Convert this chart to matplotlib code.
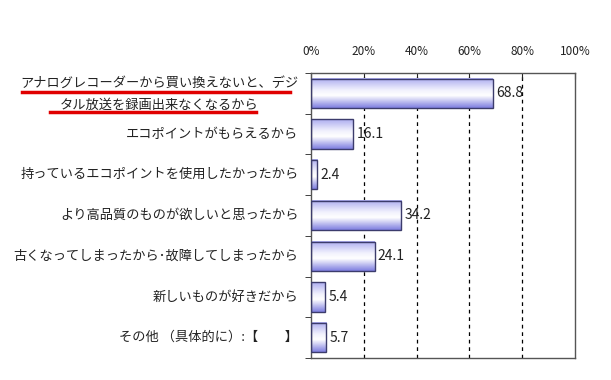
import matplotlib
matplotlib.use("Agg")
import matplotlib.pyplot as plt
import numpy as np
from matplotlib.colors import LinearSegmentedColormap
from matplotlib.lines import Line2D

plt.rcParams['font.family'] = ['Noto Sans CJK JP', 'DejaVu Sans']

labels = [
    "アナログレコーダーから買い換えないと、デジ\nタル放送を録画出来なくなるから",
    "エコポイントがもらえるから",
    "持っているエコポイントを使用したかったから",
    "より高品質のものが欲しいと思ったから",
    "古くなってしまったから･故障してしまったから",
    "新しいものが好きだから",
    "その他 （具体的に）:【　　】",
]
values = [68.8, 16.1, 2.4, 34.2, 24.1, 5.4, 5.7]
xticks = [0, 20, 40, 60, 80, 100]

fig = plt.figure(figsize=(6.11, 3.80), dpi=100)
ax = fig.add_axes([0.509, 0.058, 0.432, 0.750])

n = len(values)
ys = np.arange(n)
h = 0.72

# bar gradient: lavender top, white streak, blue bottom
cmap = LinearSegmentedColormap.from_list(
    "bar", [(0, "#7e7ee0"), (0.42, "#ffffff"), (0.6, "#f2f2fd"), (1, "#adadf0")])
grad = np.linspace(0, 1, 64).reshape(-1, 1)

for y, v in zip(ys, values):
    ax.imshow(grad, cmap=cmap, aspect="auto", origin="lower",
              extent=[0, v, y + h / 2, y - h / 2], zorder=2)
    ax.barh(y, v, height=h, facecolor="none", edgecolor="#3c3c6c",
            linewidth=1.0, zorder=3)
    ax.text(v + 1.2, y, f"{v:.1f}", va="center", ha="left",
            fontsize=10, color="#222222", zorder=4)

ax.set_xlim(0, 100)
ax.set_ylim(n - 0.5, -0.5)

for x in xticks[1:-1]:
    ax.axvline(x, color="black", linestyle=(0, (3, 3)), linewidth=0.9, zorder=1)

ax.xaxis.tick_top()
ax.set_xticks(xticks)
ax.set_xticklabels([f"{x}%" for x in xticks], fontsize=8.5, color="#222222")
ax.tick_params(axis="x", direction="in", length=4, pad=11, color="#222222")

ax.set_yticks(ys)
ax.set_yticklabels([""] * n)
ax.tick_params(axis="y", length=0)
ax.set_yticks(np.arange(n + 1) - 0.5, minor=True)
ax.tick_params(axis="y", which="minor", direction="out", length=4, color="#222222")

# category labels drawn as text so the two-line one gets wider spacing
tf = ax.get_yaxis_transform()
for y, lab in zip(ys, labels):
    ax.text(-0.048, y + (0.03 if "\n" in lab else 0), lab, transform=tf,
            ha="right", va="center", multialignment="center",
            fontsize=9.5, color="#222222", linespacing=1.95)

for s in ax.spines.values():
    s.set_color("#555555")
    s.set_linewidth(1.0)

# red underlines under the first label
fig.add_artist(Line2D([22 / 611, 290 / 611], [1 - 92 / 380, 1 - 92 / 380],
                      color="#e00000", linewidth=2.5))
fig.add_artist(Line2D([50 / 611, 256 / 611], [1 - 112 / 380, 1 - 112 / 380],
                      color="#e00000", linewidth=2.5))

fig.savefig("out.png", dpi=100)
